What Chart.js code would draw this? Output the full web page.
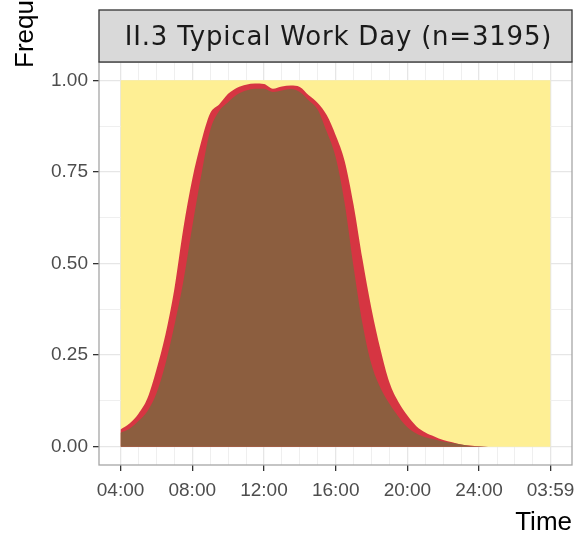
<!DOCTYPE html>
<html lang="en">
<head>
    <meta charset="UTF-8">
    <title>II.3 Typical Work Day</title>
    <script src="https://cdn.jsdelivr.net/npm/chart.js"></script>
    <style>
        html, body {
            margin: 0;
            padding: 0;
            background-color: #ffffff;
        }
        #wrap {
            width: 577px;
            height: 537px;
        }
    </style>
</head>
<body>

<div id="wrap">
    <canvas id="dayChart" width="577" height="537"></canvas>
</div>

<script>
    // time of day in hours (04:00 .. 03:59 next morning)
    const hours = [4, 4.5, 5, 5.5, 6, 6.5, 7, 7.5, 8, 8.5, 9, 9.5, 10, 10.5, 11, 11.5,
        12, 12.5, 13, 13.5, 14, 14.5, 15, 15.5, 16, 16.5, 17, 17.5, 18, 18.5, 19, 19.5,
        20, 20.5, 21, 21.5, 22, 22.5, 23, 23.5, 24, 24.5, 25, 25.5, 26, 26.5, 27, 27.5, 27.983];

    // cumulative frequency, top of the brown band
    const brownTop = [0.038, 0.049, 0.07, 0.097, 0.145, 0.225, 0.33, 0.45, 0.60, 0.74, 0.863, 0.916,
        0.94, 0.961, 0.972, 0.977, 0.977, 0.968, 0.972, 0.976, 0.968, 0.945, 0.92, 0.86,
        0.79, 0.665, 0.49, 0.335, 0.224, 0.16, 0.117, 0.082, 0.053, 0.036, 0.026, 0.02,
        0.014, 0.01, 0.006, 0.002, 0.001, 0, 0, 0, 0, 0, 0, 0, 0];

    // cumulative frequency, top of the red band
    const redTop = [0.047, 0.063, 0.09, 0.132, 0.21, 0.305, 0.43, 0.595, 0.73, 0.832, 0.91, 0.934,
        0.963, 0.98, 0.988, 0.991, 0.99, 0.977, 0.983, 0.986, 0.982, 0.959, 0.938, 0.905,
        0.85, 0.78, 0.66, 0.51, 0.376, 0.265, 0.175, 0.122, 0.085, 0.056, 0.039, 0.028,
        0.018, 0.012, 0.006, 0.003, 0.001, 0, 0, 0, 0, 0, 0, 0, 0];

    // the yellow band closes the total at 1 over the whole day
    const dayBounds = [4, 27.983];
    const totalTop = [1, 1];

    const xTickHours = [4, 8, 12, 16, 20, 24, 27.983];
    const xTickLabels = ['04:00', '08:00', '12:00', '16:00', '20:00', '24:00', '03:59'];
    const xGridHours = [4, 5, 6, 7, 8, 9, 10, 11, 12, 13, 14, 15, 16, 17, 18, 19, 20,
        21, 22, 23, 24, 25, 26, 27, 27.983];

    const yTickValues = [0, 0.25, 0.5, 0.75, 1];
    const yTickLabels = ['0.00', '0.25', '0.50', '0.75', '1.00'];
    const yGridValues = [0, 0.125, 0.25, 0.375, 0.5, 0.625, 0.75, 0.875, 1];

    const panelTitle = 'II.3 Typical Work Day (n=3195)';
    const xTitle = 'Time';
    const yTitle = 'Frequency';

    const BROWN = '#8C5E3F';
    const RED = '#D63542';
    const YELLOW = '#FEEF94';

    function points(xs, ys) {
        return xs.map((x, i) => ({ x: x, y: ys[i] }));
    }

    // strip, panel border and axis titles, ggplot style
    const panelDecor = {
        id: 'panelDecor',
        afterDatasetsDraw(chart) {
            const ctx = chart.ctx;
            const a = chart.chartArea;
            ctx.save();
            ctx.strokeStyle = '#A6A6A6';
            ctx.lineWidth = 1.3;
            ctx.strokeRect(a.left, a.top, a.right - a.left, a.bottom - a.top);
            ctx.restore();
        },
        afterDraw(chart) {
            const ctx = chart.ctx;
            const a = chart.chartArea;
            ctx.save();
            // facet strip
            ctx.fillStyle = '#D9D9D9';
            ctx.fillRect(a.left, 10, a.right - a.left, a.top - 10);
            ctx.strokeStyle = '#333333';
            ctx.lineWidth = 1.3;
            ctx.strokeRect(a.left, 10, a.right - a.left, a.top - 10);
            ctx.fillStyle = '#1A1A1A';
            ctx.font = '26px "DejaVu Sans"';
            ctx.letterSpacing = '0.8px';
            ctx.textAlign = 'center';
            ctx.textBaseline = 'middle';
            ctx.fillText(panelTitle, (a.left + a.right) / 2 + 3, (10 + a.top) / 2 + 2);
            ctx.letterSpacing = '0px';

            // x title
            ctx.fillStyle = '#000000';
            ctx.font = '26px "Liberation Sans"';
            ctx.textAlign = 'right';
            ctx.textBaseline = 'alphabetic';
            ctx.fillText(xTitle, a.right, 530);

            // y title (runs off the top of the picture)
            ctx.translate(33, 68);
            ctx.rotate(-Math.PI / 2);
            ctx.textAlign = 'left';
            ctx.fillText(yTitle, 0, 0);
            ctx.restore();
        }
    };

    const ctx = document.getElementById('dayChart').getContext('2d');
    const dayChart = new Chart(ctx, {
        type: 'line',
        data: {
            datasets: [
                {
                    label: 'brown',
                    data: points(hours, brownTop),
                    backgroundColor: BROWN,
                    borderWidth: 0,
                    pointRadius: 0,
                    fill: 'origin',
                    cubicInterpolationMode: 'monotone'
                },
                {
                    label: 'red',
                    data: points(hours, redTop),
                    backgroundColor: RED,
                    borderWidth: 0,
                    pointRadius: 0,
                    fill: 'origin',
                    cubicInterpolationMode: 'monotone'
                },
                {
                    label: 'yellow',
                    data: points(dayBounds, totalTop),
                    backgroundColor: YELLOW,
                    borderWidth: 0,
                    pointRadius: 0,
                    fill: 'origin'
                }
            ]
        },
        options: {
            responsive: false,
            animation: false,
            devicePixelRatio: 1,
            layout: {
                padding: { top: 62, right: 5, left: 0, bottom: 0 }
            },
            plugins: {
                legend: { display: false },
                tooltip: { enabled: false }
            },
            scales: {
                x: {
                    type: 'linear',
                    min: 2.8,
                    max: 29.18,
                    afterFit: scale => {
                        scale.height = 72;
                        scale.paddingLeft = 0;
                        scale.paddingRight = 0;
                    },
                    afterBuildTicks: scale => {
                        scale.ticks = xGridHours.map(v => ({ value: v }));
                    },
                    border: { display: false },
                    grid: {
                        color: c => (c.tick && xTickHours.includes(c.tick.value)) ? '#E6E6E6' : '#EFEFEF',
                        lineWidth: c => (c.tick && xTickHours.includes(c.tick.value)) ? 1.3 : 1,
                        tickLength: 6,
                        tickWidth: 1.3,
                        tickColor: c => (c.tick && xTickHours.includes(c.tick.value)) ? '#333333' : 'rgba(0,0,0,0)'
                    },
                    ticks: {
                        autoSkip: false,
                        maxRotation: 0,
                        minRotation: 0,
                        padding: 8,
                        color: '#4D4D4D',
                        font: { family: 'Liberation Sans', size: 19 },
                        callback: v => {
                            const i = xTickHours.indexOf(v);
                            return i >= 0 ? xTickLabels[i] : '';
                        }
                    }
                },
                y: {
                    min: -0.05,
                    max: 1.05,
                    afterFit: scale => { scale.width = 99; },
                    afterBuildTicks: scale => {
                        scale.ticks = yGridValues.map(v => ({ value: v }));
                    },
                    border: { display: false },
                    grid: {
                        color: c => (c.tick && yTickValues.includes(c.tick.value)) ? '#E6E6E6' : '#EFEFEF',
                        lineWidth: c => (c.tick && yTickValues.includes(c.tick.value)) ? 1.3 : 1,
                        tickLength: 6,
                        tickWidth: 1.3,
                        tickColor: c => (c.tick && yTickValues.includes(c.tick.value)) ? '#333333' : 'rgba(0,0,0,0)'
                    },
                    ticks: {
                        autoSkip: false,
                        padding: 5,
                        color: '#4D4D4D',
                        font: { family: 'Liberation Sans', size: 19 },
                        callback: v => {
                            const i = yTickValues.indexOf(v);
                            return i >= 0 ? yTickLabels[i] : '';
                        }
                    }
                }
            }
        },
        plugins: [panelDecor]
    });
</script>

</body>
</html>
